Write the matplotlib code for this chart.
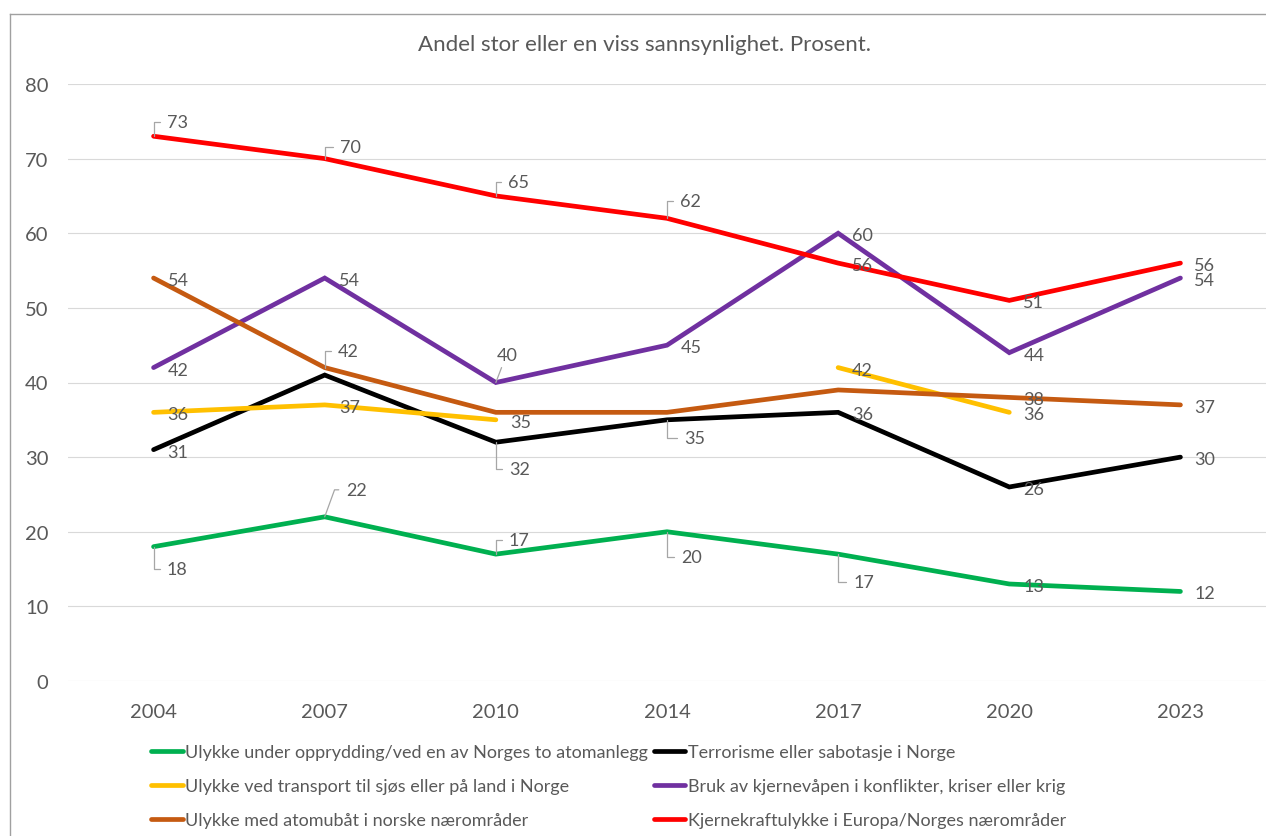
import matplotlib
matplotlib.use('agg')
import matplotlib.pyplot as plt
from matplotlib.lines import Line2D

plt.rcParams['font.family'] = ['Lato', 'DejaVu Sans']

years = ['2004', '2007', '2010', '2014', '2017', '2020', '2023']
opprydding = [18, 22, 17, 20, 17, 13, 12]
terror = [31, 41, 32, 35, 36, 26, 30]
transport = [36, 37, 35, None, 42, 36, None]
kjernevapen = [42, 54, 40, 45, 60, 44, 54]
atomubat = [54, 42, 36, 36, 39, 38, 37]
kjernekraft = [73, 70, 65, 62, 56, 51, 56]

names = ['Ulykke under opprydding/ved en av Norges to atomanlegg',
         'Terrorisme eller sabotasje i Norge',
         'Ulykke ved transport til sjøs eller på land i Norge',
         'Bruk av kjernevåpen i konflikter, kriser eller krig',
         'Ulykke med atomubåt i norske nærområder',
         'Kjernekraftulykke i Europa/Norges nærområder']
colors = ['#00B050', '#000000', '#FFC000', '#7030A0', '#C55A11', '#FF0000']
series = [opprydding, terror, transport, kjernevapen, atomubat, kjernekraft]

# labels hidden in the original (series index, point index)
hidden = {(1, 1), (4, 2), (4, 3), (4, 4)}
# label placement in pixels: (dx to text left, dy up, leader)
special = {
    (5, 0): (13, 14, 90), (5, 1): (15, 12, 90), (5, 2): (12, 14, 90), (5, 3): (13, 17, 90),
    (3, 2): (1, 27, 'line'),
    (4, 1): (13, 17, 90),
    (1, 2): (13, -27, 90), (1, 3): (17, -18, 90),
    (0, 0): (13, -22, 90), (0, 1): (21, 27, 70), (0, 2): (13, 14, 90),
    (0, 3): (14, -25, 90), (0, 4): (15, -28, 90),
}

grey = '#595959'
fig = plt.figure(figsize=(12.66, 8.37), dpi=100)
ax = fig.add_axes([68 / 1266, 1 - 682 / 837, 1198 / 1266, 597 / 837])

x = list(range(len(years)))
handles = []
for si, (vals, c, name) in enumerate(zip(series, colors, names)):
    # split on gaps
    segs, cur = [], []
    for i, v in zip(x, vals):
        if v is None:
            if cur:
                segs.append(cur)
            cur = []
        else:
            cur.append((i, v))
    if cur:
        segs.append(cur)
    for seg in segs:
        ax.plot([p[0] for p in seg], [p[1] for p in seg], color=c, lw=3.4,
                solid_capstyle='round', solid_joinstyle='miter', zorder=3)
    handles.append(Line2D([], [], color=c, lw=3.4, solid_capstyle='round'))
    for i, v in zip(x, vals):
        if v is None or (si, i) in hidden:
            continue
        dx, dy, lead = special.get((si, i), (14, -2, None))
        kw = {}
        if lead == 'line':
            kw['arrowprops'] = dict(arrowstyle='-', color='#a6a6a6', lw=0.9,
                                    shrinkA=1, shrinkB=0, relpos=(0.3, 0))
        elif lead is not None:
            kw['arrowprops'] = dict(arrowstyle='-', color='#a6a6a6', lw=0.9,
                                    shrinkA=3, shrinkB=0, relpos=(0, 0.5),
                                    connectionstyle=f'angle,angleA=0,angleB={lead},rad=0')
        ax.annotate(str(v), xy=(i, v), xytext=(dx, dy), textcoords='offset pixels',
                    ha='left', va='center', fontsize=13, color=grey, zorder=4, **kw)

ax.set_xlim(-0.5, len(years) - 0.5)
ax.set_ylim(0, 80)
ax.set_yticks(range(0, 81, 10))
ax.set_xticks(x)
ax.set_xticklabels(years)
ax.grid(axis='y', color='#d9d9d9', lw=0.8)
ax.set_axisbelow(True)
for s in ax.spines.values():
    s.set_visible(False)
ax.tick_params(length=0, labelsize=14.5, labelcolor=grey)
ax.tick_params(axis='y', pad=14)
ax.tick_params(axis='x', pad=16)

fig.text(644 / 1266, 1 - 45 / 837, 'Andel stor eller en viss sannsynlighet. Prosent.',
         ha='center', va='center', fontsize=16, color=grey)

order = [0, 2, 4, 1, 3, 5]
leg = fig.legend([handles[k] for k in order], [names[k] for k in order], ncol=2,
                 loc='upper left', bbox_to_anchor=(151 / 1266, 1 - 745 / 837),
                 frameon=False, borderpad=0, borderaxespad=0, fontsize=13,
                 handlelength=1.75, handletextpad=0.15, columnspacing=0.3,
                 labelspacing=1.0, labelcolor=grey)

# chart area border
fig.add_artist(Line2D([9.5 / 1266, 1], [1 - 15 / 837, 1 - 15 / 837], color='#a0a0a0', lw=1))
fig.add_artist(Line2D([9.5 / 1266, 9.5 / 1266], [0, 1 - 15 / 837], color='#a0a0a0', lw=1))

fig.savefig('out.png', dpi=100)
